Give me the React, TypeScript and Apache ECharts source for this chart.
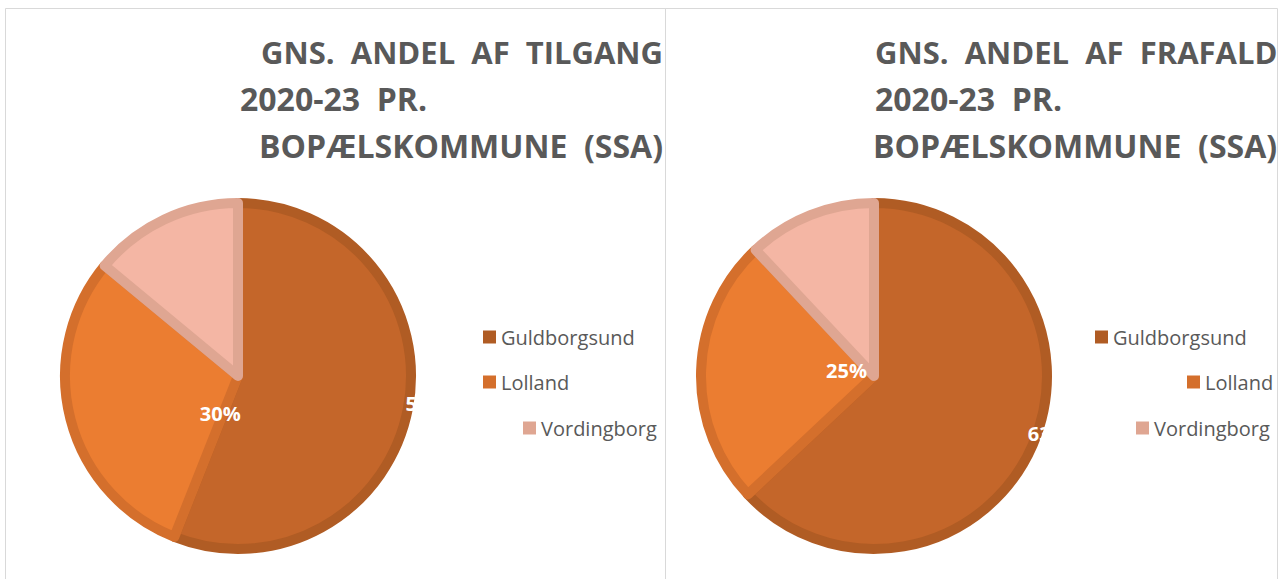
import { useEffect, useRef } from "react";
import * as echarts from "echarts";

const categories = ["Guldborgsund", "Lolland", "Vordingborg"];
const tilgangShares = [56, 30, 14];
const frafaldShares = [63, 25, 12];
const tilgangTitle = ["GNS.  ANDEL  AF  TILGANG", "2020-23  PR.", "BOPÆLSKOMMUNE  (SSA)"];
const frafaldTitle = ["GNS.  ANDEL  AF  FRAFALD", "2020-23  PR.", "BOPÆLSKOMMUNE  (SSA)"];
const fillColors = ["#C4662A", "#EB7D31", "#F4B6A4"];
const edgeColors = ["#B05C24", "#D46F2C", "#DFA692"];
const showLabel = [true, true, false];

const W = 1283;
const H = 579;
const GREY = "#595959";
const FONT = "'Open Sans', sans-serif";

export default function App() {
  const ref = useRef<HTMLDivElement>(null);

  useEffect(() => {
    if (!ref.current) return;
    const chart = echarts.init(ref.current, undefined, { renderer: "svg", width: W, height: H });

    const ts = (size: number) => ({ fontFamily: FONT, fontWeight: "bold", fontSize: size, color: GREY });
    const titles: any[] = [
      { text: tilgangTitle[0], right: W - 663, top: 36, textStyle: ts(31) },
      { text: tilgangTitle[1], left: 240, top: 82, textStyle: ts(32) },
      { text: tilgangTitle[2], right: W - 663, top: 129, textStyle: ts(32) },
      { text: frafaldTitle[0], left: 875, top: 36, textStyle: ts(31) },
      { text: frafaldTitle[1], left: 875, top: 82, textStyle: ts(32) },
      { text: frafaldTitle[2], left: 873, top: 129, textStyle: ts(32) },
    ].map((t) => ({ ...t, padding: 0 }));

    const legendPos = [
      [483, 327], [483, 372], [523, 418],
      [1095, 327], [1187, 372], [1136, 418],
    ];
    const legends = legendPos.map((p, i) => {
      const k = i % 3;
      return {
        data: [{ name: categories[k], itemStyle: { color: edgeColors[k], borderWidth: 0 } }],
        left: p[0],
        top: p[1],
        orient: "vertical",
        padding: 0,
        itemWidth: 13,
        itemHeight: 13,
        icon: "rect",
        selectedMode: false,
        itemStyle: { borderWidth: 0 },
        textStyle: { fontFamily: FONT, fontSize: 20, color: GREY },
      };
    });

    const labelShift = [
      [[100, 11], [69, 15], [0, 0]],
      [[92, 22], [62, -3], [0, 0]],
    ];

    const makeSeries = (values: number[], center: number[], si: number) => ({
      type: "pie",
      center,
      radius: 173,
      startAngle: 90,
      clockwise: true,
      avoidLabelOverlap: false,
      silent: true,
      emphasis: { disabled: true },
      labelLine: { show: false },
      label: {
        show: true,
        position: "inside",
        formatter: "{c}%",
        color: "#FFFFFF",
        fontFamily: FONT,
        fontWeight: "bold",
        fontSize: 20,
      },
      labelLayout: (params: any) => {
        const s = labelShift[si][params.dataIndex];
        return { dx: s[0], dy: s[1] };
      },
      data: categories.map((name, i) => ({
        name,
        value: values[i],
        itemStyle: { color: fillColors[i], borderColor: edgeColors[i], borderWidth: 10 },
        label: { show: showLabel[i] },
      })),
    });

    chart.setOption({
      animation: false,
      backgroundColor: "#FFFFFF",
      title: titles,
      legend: legends,
      graphic: [
        { type: "rect", shape: { x: 5.5, y: 8.5, width: 660, height: 620 }, style: { fill: "none", stroke: "#D9D9D9", lineWidth: 1 }, silent: true },
        { type: "rect", shape: { x: 665.5, y: 8.5, width: 612, height: 620 }, style: { fill: "none", stroke: "#D9D9D9", lineWidth: 1 }, silent: true },
      ],
      series: [
        makeSeries(tilgangShares, [238, 376], 0),
        makeSeries(frafaldShares, [874, 376], 1),
      ],
    });

    return () => chart.dispose();
  }, []);

  return (
    <div
      ref={ref}
      style={{ position: "absolute", left: 0, top: 0, width: W, height: H, background: "#fff" }}
    />
  );
}
